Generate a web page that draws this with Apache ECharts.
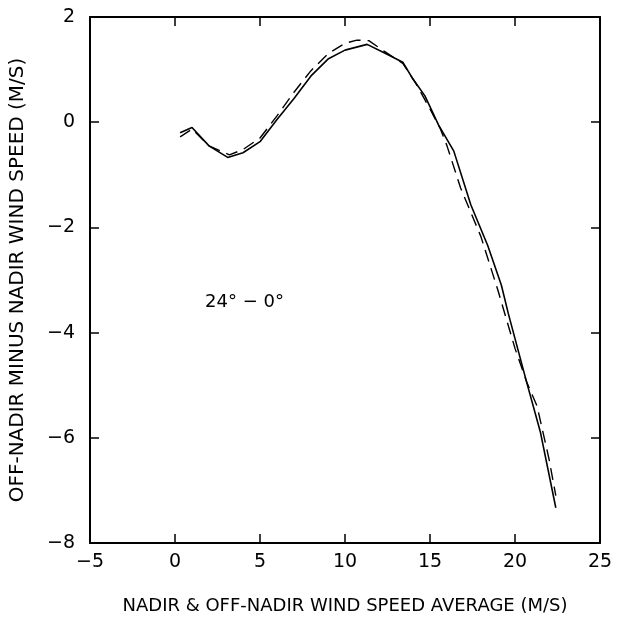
<!DOCTYPE html>
<html>
<head>
<meta charset="utf-8">
<script src="https://cdn.jsdelivr.net/npm/echarts@6/dist/echarts.min.js"></script>
<style>html,body{margin:0;padding:0;background:#fff}#c{width:625px;height:620px}</style>
</head>
<body>
<div id="c"></div>
<script>
// Solid curve (x, y)
const solidX = [0.3, 1.0, 2.0, 3.1, 4.0, 5.0, 6.0, 7.0, 8.0, 9.0, 10.0, 11.3, 12.3, 13.4, 14.0, 14.7, 15.5, 16.4, 17.4, 18.4, 19.2, 19.6, 20.7, 21.5, 22.4];
const solidY = [-0.2, -0.1, -0.45, -0.67, -0.58, -0.37, 0.05, 0.45, 0.88, 1.2, 1.37, 1.48, 1.32, 1.14, 0.82, 0.5, -0.05, -0.55, -1.57, -2.35, -3.1, -3.63, -4.96, -5.9, -7.33];
// Dashed curve (x, y)
const dashX = [0.3, 1.0, 2.0, 3.2, 4.0, 5.0, 6.0, 7.0, 8.0, 9.0, 10.0, 10.7, 11.4, 12.3, 13.4, 14.2, 15.0, 15.6, 16.0, 16.8, 18.0, 19.0, 20.0, 20.7, 21.3, 22.0, 22.4];
const dashY = [-0.28, -0.13, -0.45, -0.62, -0.52, -0.3, 0.12, 0.57, 0.98, 1.3, 1.5, 1.56, 1.55, 1.35, 1.12, 0.72, 0.25, -0.12, -0.45, -1.25, -2.18, -3.2, -4.3, -4.95, -5.4, -6.4, -7.1];
const xTicks = [-5, 0, 5, 10, 15, 20, 25];
const yTicks = [-8, -6, -4, -2, 0, 2];
const xTitle = 'NADIR & OFF-NADIR WIND SPEED AVERAGE (M/S)';
const yTitle = 'OFF-NADIR MINUS NADIR WIND SPEED (M/S)';
const panelLabel = '24° − 0°';

const font = 'DejaVu Sans, Liberation Sans, sans-serif';
const pair = (xs, ys) => xs.map((x, i) => [x, ys[i]]);
const fmt = v => String(v).replace('-', '−');
const chart = echarts.init(document.getElementById('c'), null, {renderer: 'canvas'});
const axisLine = {show: true, onZero: false, lineStyle: {color: '#000', width: 2}};
const tick = {show: true, inside: true, length: 9, lineStyle: {color: '#000', width: 1.5}};
chart.setOption({
  animation: false,
  backgroundColor: '#fff',
  grid: {left: 87, right: 25, top: 17, bottom: 77, containLabel: false},
  xAxis: [{
    type: 'value', min: xTicks[0], max: xTicks[xTicks.length - 1], interval: 5,
    position: 'bottom', axisLine: axisLine, axisTick: tick,
    axisLabel: {color: '#000', fontSize: 19, fontFamily: font, margin: 10, formatter: fmt},
    splitLine: {show: false},
    name: xTitle, nameLocation: 'middle', nameGap: 54,
    nameTextStyle: {color: '#000', fontSize: 18, fontFamily: font}
  }, {
    type: 'value', min: xTicks[0], max: xTicks[xTicks.length - 1], interval: 5,
    position: 'top', axisLine: axisLine, axisTick: tick,
    axisLabel: {show: false}, splitLine: {show: false}
  }],
  yAxis: [{
    type: 'value', min: yTicks[0], max: yTicks[yTicks.length - 1], interval: 2,
    position: 'left', axisLine: axisLine, axisTick: tick,
    axisLabel: {color: '#000', fontSize: 19, fontFamily: font, margin: 15, formatter: fmt},
    splitLine: {show: false},
    name: yTitle, nameLocation: 'middle', nameGap: 62, nameRotate: 90,
    nameTextStyle: {color: '#000', fontSize: 20, fontFamily: font}
  }, {
    type: 'value', min: yTicks[0], max: yTicks[yTicks.length - 1], interval: 2,
    position: 'right', axisLine: axisLine, axisTick: tick,
    axisLabel: {show: false}, splitLine: {show: false}
  }],
  graphic: [{
    type: 'text', left: 205, top: 293,
    style: {text: panelLabel, fill: '#000', font: '18px ' + font}
  }],
  series: [{
    type: 'line', data: pair(solidX, solidY), showSymbol: false, symbol: 'none',
    lineStyle: {color: '#000', width: 1.6}, z: 3
  }, {
    type: 'line', data: pair(dashX, dashY), showSymbol: false, symbol: 'none',
    lineStyle: {color: '#000', width: 1.4, type: [12, 7]}, z: 2
  }]
});
</script>
</body>
</html>
